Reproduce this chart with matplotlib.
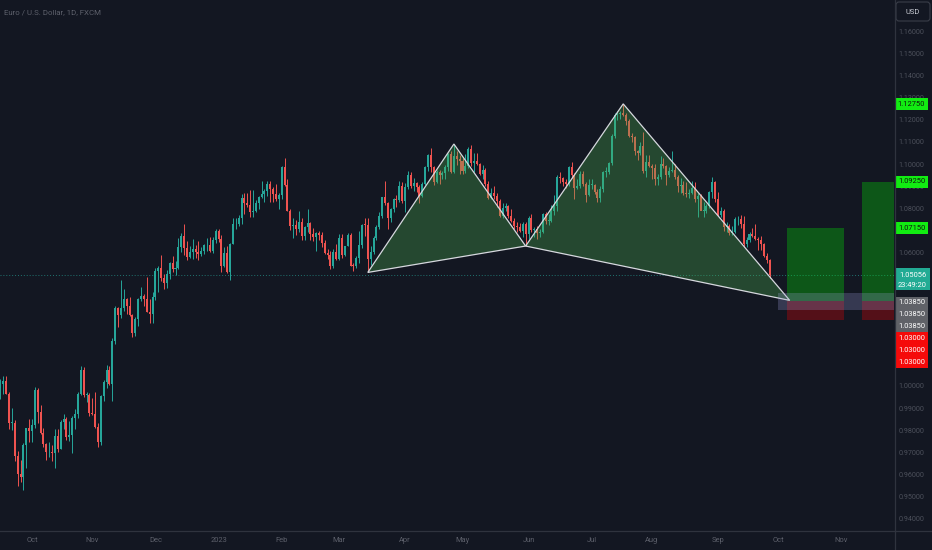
import numpy as np
import pandas as pd
import matplotlib
matplotlib.use("Agg")
import matplotlib.pyplot as plt
from matplotlib.patches import Rectangle, Polygon, FancyBboxPatch
from matplotlib.lines import Line2D
from matplotlib.transforms import IdentityTransform

plt.rcParams['font.family'] = ['Roboto', 'DejaVu Sans']

# ---------------- data ----------------
title = "Euro / U.S. Dollar, 1D, FXCM"
start_date = "2022-09-16"

opens = [
    # Sep 2022
    0.9995,1.0015,1.0025,0.9970,0.9837,0.9837,0.9690,0.9607,0.9593,0.9736,0.9815,
    # Oct
    0.9801,0.9826,0.9987,0.9885,0.9793,0.9743,0.9705,0.9706,0.9704,0.9780,0.9720,0.9840,0.9855,0.9775,0.9781,0.9860,0.9878,0.9966,1.0078,0.9965,0.9965,
    # Nov
    0.9882,0.9877,0.9818,0.9750,0.9960,1.0020,1.0074,1.0013,1.0207,1.0356,1.0325,1.0355,1.0394,1.0364,1.0325,1.0242,1.0305,1.0395,1.0408,1.0398,1.0339,1.0330,
    # Dec
    1.0404,1.0523,1.0537,1.0492,1.0468,1.0507,1.0557,1.0531,1.0537,1.0630,1.0682,1.0627,1.0584,1.0607,1.0623,1.0606,1.0597,1.0613,1.0638,1.0640,1.0612,1.0660,
    # Jan 2023
    1.0703,1.0667,1.0545,1.0605,1.0520,1.0645,1.0733,1.0733,1.0760,1.0851,1.0830,1.0821,1.0789,1.0795,1.0830,1.0856,1.0870,1.0885,1.0916,1.0890,1.0870,1.0848,
    # Feb
    1.0863,1.0990,1.0911,1.0795,1.0727,1.0728,1.0712,1.0742,1.0679,1.0722,1.0741,1.0688,1.0674,1.0695,1.0685,1.0647,1.0605,1.0596,1.0547,1.0609,
    # Mar
    1.0576,1.0670,1.0596,1.0635,1.0683,1.0547,1.0545,1.0583,1.0640,1.0731,1.0730,1.0577,1.0610,1.0670,1.0720,1.0770,1.0855,1.0830,1.0760,1.0800,1.0845,1.0843,1.0904,
    # Apr
    1.0839,1.0900,1.0954,1.0905,1.0921,1.0903,1.0860,1.0915,1.0990,1.1045,1.0990,1.0925,1.0970,1.0955,1.0965,1.0990,1.1050,1.0970,1.1042,1.1027,
    # May
    1.1020,1.0975,1.0995,1.1072,1.1011,1.1020,1.1006,1.0960,1.0980,1.0915,1.0850,1.0875,1.0862,1.0840,1.0770,1.0805,1.0815,1.0770,1.0750,1.0725,1.0722,1.0705,1.0735,
    # Jun
    1.0688,1.0762,1.0708,1.0713,1.0692,1.0698,1.0780,1.0750,1.0750,1.0792,1.0817,1.0945,1.0940,1.0925,1.0915,1.0990,1.0955,1.0895,1.0905,1.0960,1.0915,1.0865,
    # Jul
    1.0910,1.0912,1.0880,1.0850,1.0890,1.0968,1.0970,1.1010,1.1130,1.1225,1.1230,1.1235,1.1228,1.1200,1.1130,1.1125,1.1063,1.1055,1.1085,1.0975,1.1016,
    # Aug
    1.0995,1.0985,1.0935,1.0945,1.1005,1.0998,1.0955,1.0975,1.0980,1.0948,1.0905,1.0908,1.0873,1.0870,1.0875,1.0895,1.0845,1.0860,1.0795,1.0795,1.0815,1.0880,1.0925,
    # Sep
    1.0845,1.0775,1.0795,1.0720,1.0725,1.0695,1.0700,1.0755,1.0755,1.0735,1.0645,1.0660,1.0690,1.0680,1.0665,1.0660,1.0645,1.0590,1.0570,
]
highs = [
    1.0037,1.0051,1.0051,0.9976,0.9907,0.9852,0.9710,0.9672,0.9748,0.9815,0.9853,
    0.9853,0.9999,0.9995,0.9918,0.9814,0.9748,0.9750,0.9739,0.9808,0.9810,0.9850,0.9876,0.9864,0.9847,0.9870,0.9900,0.9976,1.0094,1.0090,0.9976,0.9974,
    0.9952,0.9976,0.9837,0.9965,1.0030,1.0097,1.0094,1.0222,1.0364,1.0361,1.0481,1.0440,1.0399,1.0405,1.0330,1.0315,1.0400,1.0449,1.0418,1.0497,1.0394,1.0429,
    1.0534,1.0545,1.0595,1.0507,1.0528,1.0565,1.0588,1.0566,1.0673,1.0694,1.0736,1.0657,1.0635,1.0666,1.0638,1.0657,1.0630,1.0645,1.0669,1.0674,1.0675,1.0714,
    1.0713,1.0683,1.0631,1.0636,1.0650,1.0760,1.0760,1.0775,1.0868,1.0874,1.0873,1.0887,1.0887,1.0841,1.0860,1.0927,1.0890,1.0929,1.0930,1.0903,1.0914,1.0872,
    1.0995,1.1033,1.0935,1.0804,1.0760,1.0753,1.0791,1.0762,1.0727,1.0804,1.0745,1.0715,1.0698,1.0705,1.0699,1.0663,1.0622,1.0611,1.0620,1.0646,
    1.0691,1.0690,1.0637,1.0694,1.0695,1.0560,1.0590,1.0705,1.0736,1.0760,1.0760,1.0635,1.0680,1.0730,1.0788,1.0857,1.0930,1.0835,1.0806,1.0850,1.0866,1.0926,1.0925,
    1.0918,1.0973,1.0971,1.0940,1.0925,1.0910,1.0925,1.0998,1.1050,1.1075,1.0995,1.0980,1.0980,1.0975,1.1000,1.1055,1.1065,1.1095,1.1065,1.1045,
    1.1030,1.1050,1.1080,1.1092,1.1055,1.1055,1.1010,1.1000,1.0985,1.0930,1.0895,1.0905,1.0876,1.0846,1.0830,1.0830,1.0820,1.0800,1.0760,1.0745,1.0740,1.0745,1.0745,
    1.0772,1.0780,1.0720,1.0725,1.0710,1.0785,1.0790,1.0780,1.0822,1.0865,1.0955,1.0970,1.0945,1.0935,1.0995,1.1012,1.0965,1.0935,1.0975,1.0975,1.0925,1.0935,
    1.0935,1.0915,1.0890,1.0905,1.0975,1.0990,1.1015,1.1140,1.1235,1.1245,1.1245,1.1276,1.1235,1.1210,1.1145,1.1130,1.1070,1.1105,1.1150,1.1045,1.1045,
    1.1005,1.1005,1.0962,1.1040,1.1030,1.1000,1.0990,1.1065,1.1005,1.0955,1.0940,1.0930,1.0925,1.0890,1.0930,1.0925,1.0875,1.0870,1.0835,1.0825,1.0885,1.0945,1.0930,
    1.0880,1.0810,1.0800,1.0745,1.0735,1.0725,1.0765,1.0770,1.0775,1.0770,1.0675,1.0700,1.0715,1.0735,1.0675,1.0680,1.0650,1.0605,1.0575,
]
lows = [
    0.9944,0.9967,0.9966,0.9810,0.9807,0.9667,0.9553,0.9570,0.9536,0.9634,0.9750,
    0.9753,0.9815,0.9836,0.9786,0.9728,0.9671,0.9682,0.9667,0.9632,0.9707,0.9720,0.9808,0.9760,0.9754,0.9704,0.9809,0.9860,0.9963,0.9953,0.9933,0.9870,
    0.9872,0.9813,0.9730,0.9740,0.9935,0.9993,1.0010,0.9935,1.0193,1.0272,1.0310,1.0340,1.0330,1.0318,1.0223,1.0228,1.0275,1.0387,1.0364,1.0338,1.0290,1.0290,
    1.0393,1.0430,1.0476,1.0443,1.0445,1.0487,1.0520,1.0503,1.0530,1.0608,1.0596,1.0574,1.0580,1.0578,1.0582,1.0574,1.0592,1.0601,1.0613,1.0609,1.0605,1.0650,
    1.0655,1.0520,1.0542,1.0515,1.0483,1.0643,1.0714,1.0725,1.0733,1.0778,1.0811,1.0767,1.0768,1.0787,1.0803,1.0852,1.0834,1.0862,1.0835,1.0834,1.0840,1.0800,
    1.0845,1.0905,1.0794,1.0708,1.0669,1.0686,1.0698,1.0660,1.0661,1.0700,1.0660,1.0656,1.0613,1.0660,1.0632,1.0599,1.0577,1.0533,1.0535,1.0570,
    1.0570,1.0580,1.0588,1.0633,1.0545,1.0524,1.0537,1.0560,1.0625,1.0680,1.0516,1.0551,1.0600,1.0660,1.0710,1.0760,1.0820,1.0713,1.0745,1.0790,1.0810,1.0832,1.0830,
    1.0788,1.0890,1.0895,1.0883,1.0880,1.0830,1.0855,1.0908,1.0975,1.0970,1.0910,1.0920,1.0915,1.0935,1.0935,1.0975,1.0965,1.0965,1.1000,1.0960,
    1.0960,1.0965,1.0985,1.0995,1.0968,1.1000,1.0955,1.0935,1.0905,1.0848,1.0845,1.0845,1.0810,1.0765,1.0760,1.0795,1.0760,1.0745,1.0710,1.0700,1.0700,1.0675,1.0635,
    1.0665,1.0700,1.0675,1.0665,1.0675,1.0695,1.0735,1.0730,1.0745,1.0775,1.0795,1.0920,1.0905,1.0895,1.0905,1.0940,1.0845,1.0890,1.0895,1.0905,1.0835,1.0860,
    1.0890,1.0870,1.0835,1.0835,1.0880,1.0945,1.0960,1.1000,1.1120,1.1205,1.1210,1.1220,1.1180,1.1125,1.1105,1.1045,1.1025,1.1045,1.0965,1.0945,1.0990,
    1.0935,1.0910,1.0910,1.0935,1.0985,1.0910,1.0945,1.0970,1.0935,1.0880,1.0875,1.0865,1.0855,1.0850,1.0870,1.0835,1.0765,1.0800,1.0765,1.0785,1.0805,1.0850,1.0835,
    1.0770,1.0765,1.0705,1.0700,1.0685,1.0685,1.0695,1.0730,1.0715,1.0630,1.0630,1.0655,1.0675,1.0660,1.0615,1.0615,1.0585,1.0560,1.0490,
]
closes = [
    1.0015,1.0025,0.9970,0.9837,0.9837,0.9690,0.9607,0.9593,0.9736,0.9815,0.9801,
    0.9826,0.9987,0.9885,0.9793,0.9743,0.9705,0.9706,0.9704,0.9780,0.9720,0.9840,0.9855,0.9775,0.9781,0.9860,0.9878,0.9966,1.0078,0.9965,0.9965,0.9882,
    0.9877,0.9818,0.9750,0.9960,1.0020,1.0074,1.0013,1.0207,1.0356,1.0325,1.0355,1.0394,1.0364,1.0325,1.0242,1.0305,1.0395,1.0408,1.0398,1.0339,1.0330,1.0404,
    1.0523,1.0537,1.0492,1.0468,1.0507,1.0557,1.0531,1.0537,1.0630,1.0682,1.0627,1.0584,1.0607,1.0623,1.0606,1.0597,1.0613,1.0638,1.0640,1.0612,1.0660,1.0703,
    1.0667,1.0545,1.0605,1.0520,1.0645,1.0733,1.0733,1.0760,1.0851,1.0830,1.0821,1.0789,1.0795,1.0830,1.0856,1.0870,1.0885,1.0916,1.0890,1.0870,1.0848,1.0863,
    1.0990,1.0911,1.0795,1.0727,1.0728,1.0712,1.0742,1.0679,1.0722,1.0741,1.0688,1.0674,1.0695,1.0685,1.0647,1.0605,1.0596,1.0547,1.0609,1.0576,
    1.0670,1.0596,1.0635,1.0683,1.0547,1.0545,1.0583,1.0640,1.0731,1.0730,1.0577,1.0610,1.0670,1.0720,1.0770,1.0855,1.0830,1.0760,1.0800,1.0845,1.0843,1.0904,1.0839,
    1.0900,1.0954,1.0905,1.0921,1.0903,1.0860,1.0915,1.0990,1.1045,1.0990,1.0925,1.0970,1.0955,1.0965,1.0990,1.1050,1.0970,1.1042,1.1027,1.1020,
    1.0975,1.0995,1.1072,1.1011,1.1020,1.1006,1.0960,1.0980,1.0915,1.0850,1.0875,1.0862,1.0840,1.0770,1.0805,1.0815,1.0770,1.0750,1.0725,1.0722,1.0705,1.0735,1.0688,
    1.0762,1.0708,1.0713,1.0692,1.0698,1.0780,1.0750,1.0750,1.0792,1.0817,1.0945,1.0940,1.0925,1.0915,1.0990,1.0955,1.0895,1.0905,1.0960,1.0915,1.0865,1.0910,
    1.0912,1.0880,1.0850,1.0890,1.0968,1.0970,1.1010,1.1130,1.1225,1.1230,1.1235,1.1228,1.1200,1.1130,1.1125,1.1063,1.1055,1.1085,1.0975,1.1016,1.0995,
    1.0985,1.0935,1.0945,1.1005,1.0998,1.0955,1.0975,1.0980,1.0948,1.0905,1.0908,1.0873,1.0870,1.0875,1.0895,1.0845,1.0860,1.0795,1.0795,1.0815,1.0880,1.0925,1.0845,
    1.0775,1.0795,1.0720,1.0725,1.0695,1.0700,1.0755,1.0755,1.0735,1.0645,1.0660,1.0690,1.0680,1.0665,1.0660,1.0645,1.0590,1.0570,1.0506,
]

month_starts = ["2022-10-01", "2022-11-01", "2022-12-01", "2023-01-01", "2023-02-01",
                "2023-03-01", "2023-04-01", "2023-05-01", "2023-06-01", "2023-07-01",
                "2023-08-01", "2023-09-01", "2023-10-01", "2023-11-01"]
month_labels = ["Oct", "Nov", "Dec", "2023", "Feb", "Mar", "Apr", "May", "Jun",
                "Jul", "Aug", "Sep", "Oct", "Nov"]

# visible price-scale labels (the others sit under the highlighted labels)
price_ticks = [0.94, 0.95, 0.96, 0.97, 0.98, 0.99, 1.00,
               1.06, 1.08, 1.09, 1.10, 1.11, 1.12, 1.13, 1.14, 1.15, 1.16]

# XABCD pattern points
pattern_dates = ["2023-03-15", "2023-04-26", "2023-05-31", "2023-07-18", "2023-10-06"]
pattern_prices = [1.0516, 1.1095, 1.0635, 1.1276, 1.0390]

# long positions
entry_price = 1.0385
stop_price = 1.0300
target_prices = [1.0715, 1.0925]
pattern_c_label = 1.1275
position_starts = ["2023-10-05", "2023-11-10"]
position_ends = ["2023-11-02", "2023-11-30"]
zone_dates = ["2023-10-02", "2023-11-30"]
zone_prices = [1.0347, 1.0422]

last_price = 1.05056
countdown = "23:49:20"

# ---------------- style ----------------
BG = "#131722"
UP = "#26a69a"
DOWN = "#ef5350"
DIM = "#5d606b"
SEP = "#2f333e"

W, H = 932, 550
fig = plt.figure(figsize=(W / 100, H / 100), dpi=100, facecolor=BG)
ax = fig.add_axes([0, 20 / H, 894 / W, 530 / H])
ax.set_facecolor(BG)
for s in ax.spines.values():
    s.set_visible(False)

all_dates = pd.bdate_range(start_date, "2023-12-31")
def xi(d):
    return int(all_dates.searchsorted(pd.Timestamp(d)))

o = np.array(opens); h = np.array(highs); l = np.array(lows); c = np.array(closes)
n = len(c)
x = np.arange(n)
up = c >= o
cols = np.where(up, UP, DOWN)

ax.vlines(x, l, h, colors=cols, lw=0.7, zorder=2)
body = np.maximum(np.abs(c - o), 0.00035)
ax.bar(x, body, bottom=np.minimum(o, c), width=0.7, color=cols, linewidth=0, zorder=2)

# x/y limits (2.87 px per bar)
x0 = xi("2022-10-03")
ax.set_xlim(x0 - 32 / 2.87, x0 + 862 / 2.87)
ylim = (0.93547, 1.17443)
ax.set_ylim(*ylim)
ppx = (ylim[1] - ylim[0]) / 530.0  # price per pixel

# price line
ax.axhline(last_price, color=UP, lw=0.7, ls=(0, (1, 2)), alpha=0.65, zorder=1)

# pattern
px = [xi(d) for d in pattern_dates]
pts = list(zip(px, pattern_prices))
for tri in (pts[0:3], pts[2:5]):
    ax.add_patch(Polygon(tri, closed=True, fc=(0.30, 0.69, 0.31, 0.32),
                         ec="#d6d8de", lw=0.9, zorder=4))

# positions
for s, e, tp in zip(position_starts, position_ends, target_prices):
    xs, xe = xi(s) + 0.05, xi(e) + 0.1
    ax.add_patch(Rectangle((xs, entry_price), xe - xs, tp - entry_price,
                           fc=(0.0, 1.0, 0.0, 0.28), ec="none", zorder=3))
    ax.add_patch(Rectangle((xs, stop_price), xe - xs, entry_price - stop_price,
                           fc=(1.0, 0.0, 0.0, 0.28), ec="none", zorder=3))
zx0, zx1 = xi(zone_dates[0]), xi(zone_dates[1])
ax.add_patch(Rectangle((zx0 - 0.2, zone_prices[0]), zx1 - zx0, zone_prices[1] - zone_prices[0],
                       fc=(0.62, 0.62, 0.85, 0.26), ec="none", zorder=5))

# month axis
ax.set_yticks([])
ax.set_xticks([xi(m) for m in month_starts], month_labels)
ax.tick_params(axis="x", length=0, pad=4.8, labelsize=5.4, labelcolor=DIM)

# price scale axes
ax2 = fig.add_axes([894 / W, 20 / H, 38 / W, 530 / H])
ax2.set_xlim(0, 38)
ax2.set_ylim(*ylim)
ax2.axis("off")
for p in price_ticks:
    ax2.text(17.6, p, f"{p:.5f}", ha="center", va="center", fontsize=5.1,
             color="#4c505b", zorder=1)

def scale_label(price, text, fc, tc, dy=0.0, hpx=12.0, x1=34.2):
    yc = price - dy * ppx
    ax2.add_patch(Rectangle((0.8, yc - hpx / 2 * ppx), x1 - 0.8, hpx * ppx,
                            fc=fc, ec="none", zorder=5))
    ax2.text((0.8 + x1) / 2, yc, text, ha="center", va="center", fontsize=5.4,
             color=tc, zorder=6)

GREEN_LBL = "#12ec12"
for tp in [pattern_c_label] + target_prices:
    scale_label(tp, f"{tp:.5f}", GREEN_LBL, "#0d1a0d")

# last price (two lines)
ax2.add_patch(Rectangle((0.8, last_price - 15.5 * ppx), 35.5, 21.8 * ppx,
                        fc="#22ab94", ec="none", zorder=5))
ax2.text(18.5, last_price - 0.3 * ppx, f"{last_price:.5f}", ha="center", va="center",
         fontsize=5.4, color="#ffffff", zorder=6)
ax2.text(18.5, last_price - 10.5 * ppx, countdown, ha="center", va="center",
         fontsize=5.4, color="#ffffff", zorder=6)

for i in range(3):
    scale_label(entry_price, f"{entry_price:.5f}", "#606268", "#ffffff", dy=i * 11.9 + 1.3, hpx=12.0)
for i in range(3):
    scale_label(entry_price, f"{stop_price:.5f}", "#f50a0a", "#ffffff", dy=(i + 3) * 11.9 + 1.3, hpx=12.0)

# currency box
fig.add_artist(FancyBboxPatch((896, H - 21), 34, 19,
                              boxstyle="round,pad=0,rounding_size=3",
                              transform=IdentityTransform(), fc=BG, ec="#3a3e49", lw=0.8))
fig.text(913 / W, 1 - 12 / H, "USD", ha="center", va="center", fontsize=5.4, color="#c9ccd4")

# title
fig.text(4 / W, 1 - 12.5 / H, title, ha="left", va="center", fontsize=5.7, color=DIM)

# separators
fig.add_artist(Line2D([894.5 / W, 894.5 / W], [0, 1], transform=fig.transFigure, color=SEP, lw=0.9))
fig.add_artist(Line2D([0, 1], [19.5 / H, 19.5 / H], transform=fig.transFigure, color=SEP, lw=0.9))

fig.savefig("out.png", dpi=100, facecolor=BG)
